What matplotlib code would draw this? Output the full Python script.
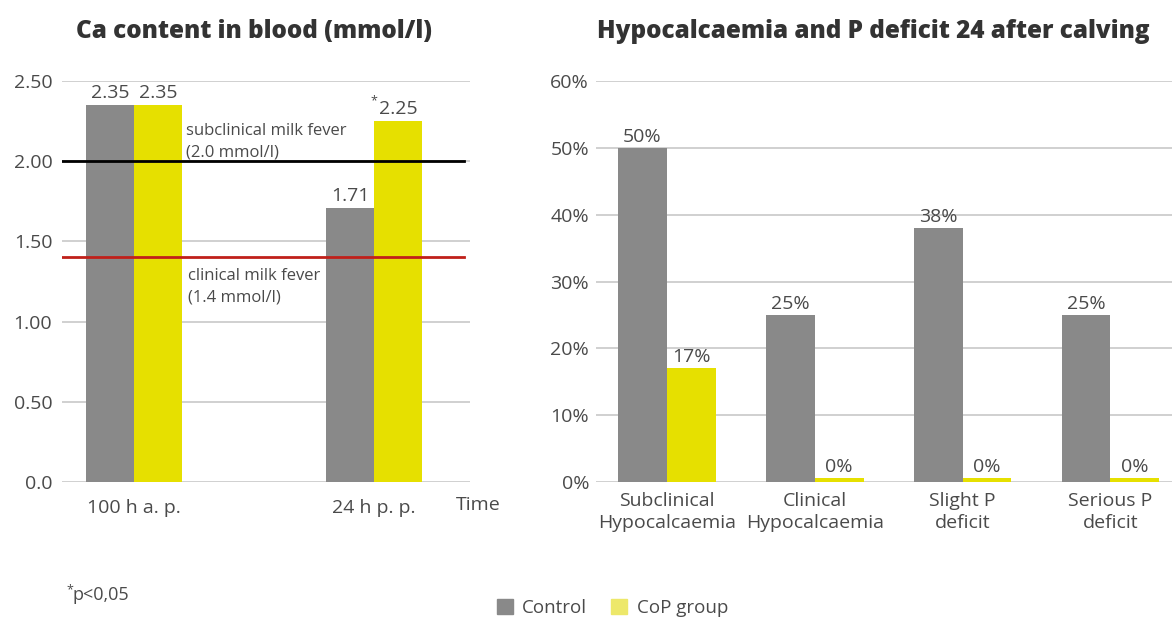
import matplotlib.pyplot as plt
from matplotlib.patches import Patch
import numpy as np

plt.rcParams['font.family'] = ['Open Sans', 'DejaVu Sans']

# left chart data
timepoints = ['100 h a. p.', '24 h p. p.']
ca_control = [2.35, 1.71]
ca_cop = [2.35, 2.25]
ca_marks = ['', '*']
subclin_level = 2.0
clin_level = 1.4

# right chart data
categories = ['Subclinical\nHypocalcaemia', 'Clinical\nHypocalcaemia',
              'Slight P\ndeficit', 'Serious P\ndeficit']
pct_control = [50, 25, 38, 25]
pct_cop = [17, 0, 0, 0]

GREY = '#898989'
YELLOW = '#e6e000'
TXT = '#4a4a4a'
GRID = '#c8c8c8'
FS = 14

fig = plt.figure(figsize=(11.72, 6.19), dpi=100)
ax1 = fig.add_axes([0.0529, 0.2213, 0.348, 0.6478])
ax2 = fig.add_axes([0.5085, 0.2213, 0.4915, 0.6478])

for ax in (ax1, ax2):
    for s in ax.spines.values():
        s.set_visible(False)
    ax.tick_params(length=0, colors=TXT, labelsize=FS)
    ax.set_axisbelow(True)
    ax.yaxis.grid(True, color=GRID, lw=1.2)

# ---- left: Ca content
x = np.arange(len(timepoints))
w = 0.2
ax1.bar(x - w / 2, ca_control, w, color=GREY)
ax1.bar(x + w / 2, ca_cop, w, color=YELLOW)
for i in range(len(x)):
    ax1.text(x[i] - w / 2, ca_control[i] + 0.02, f'{ca_control[i]:.2f}',
             ha='center', va='bottom', fontsize=FS, color=TXT)
    ax1.text(x[i] + w / 2, ca_cop[i] + 0.02, f'{ca_cop[i]:.2f}',
             ha='center', va='bottom', fontsize=FS, color=TXT)
    if ca_marks[i]:
        ax1.text(x[i] + w / 2 - 0.085, ca_cop[i] + 0.085, ca_marks[i],
                 ha='right', va='bottom', fontsize=9, color=TXT)
ax1.set_xlim(-0.3, 1.4)
ax1.set_ylim(0, 2.5)
ax1.set_yticks([0, 0.5, 1.0, 1.5, 2.0, 2.5])
ax1.set_yticklabels(['0.0', '0.50', '1.00', '1.50', '2.00', '2.50'])
ax1.tick_params(axis='y', pad=7)
ax1.set_xticks(x)
ax1.set_xticklabels(timepoints)
ax1.tick_params(axis='x', pad=12)
ax1.axhline(subclin_level, xmin=0, xmax=0.985, color='black', lw=2)
ax1.axhline(clin_level, xmin=0, xmax=0.985, color='#c0201a', lw=2)
ax1.text(0.218, 2.12, 'subclinical milk fever\n(2.0 mmol/l)', fontsize=12,
         color=TXT, va='center', linespacing=1.45)
ax1.text(0.225, 1.22, 'clinical milk fever\n(1.4 mmol/l)', fontsize=12,
         color=TXT, va='center', linespacing=1.45)
ax1.text(1.34, -0.145, 'Time', fontsize=FS, color=TXT, ha='left', va='center')
ax1.set_title('Ca content in blood (mmol/l)', fontsize=17.5, fontweight='heavy',
              color='#333333', pad=31, x=0.47)

# ---- right: hypocalcaemia / P deficit
xc = np.arange(len(categories))
w2 = 0.33
ax2.bar(xc - w2 / 2, pct_control, w2, color=GREY)
ax2.bar(xc + w2 / 2, [max(v, 0.6) for v in pct_cop], w2, color=YELLOW)
for i in range(len(xc)):
    ax2.text(xc[i] - w2 / 2, pct_control[i] + 0.3, f'{pct_control[i]}%',
             ha='center', va='bottom', fontsize=FS, color=TXT)
    ax2.text(xc[i] + w2 / 2, max(pct_cop[i], 0.6) + 0.3, f'{pct_cop[i]}%',
             ha='center', va='bottom', fontsize=FS, color=TXT)
ax2.set_xlim(-0.48, 3.416)
ax2.set_ylim(0, 60)
ax2.set_yticks(range(0, 61, 10))
ax2.set_yticklabels([f'{v}%' for v in range(0, 61, 10)])
ax2.tick_params(axis='y', pad=5)
ax2.set_xticks(xc)
ax2.set_xticklabels(categories, linespacing=1.3)
ax2.tick_params(axis='x', pad=7)
ax2.set_title('Hypocalcaemia and P deficit 24 after calving', fontsize=17.5,
              fontweight='heavy', color='#333333', pad=31, x=0.482)

# footnote and legend
fig.text(0.0565, 0.036, '*', fontsize=9, color=TXT, ha='left', va='bottom')
fig.text(0.0622, 0.024, 'p<0,05', fontsize=13, color=TXT, ha='left', va='bottom')
handles = [Patch(color=GREY, label='Control'), Patch(color='#ede86a', label='CoP group')]
fig.legend(handles=handles, loc='center', bbox_to_anchor=(0.5226, 0.018),
           ncol=2, frameon=False, fontsize=13.5, handlelength=0.85,
           handleheight=0.85, handletextpad=0.5, columnspacing=1.3,
           labelcolor=TXT)

fig.savefig('out.png', dpi=100)
